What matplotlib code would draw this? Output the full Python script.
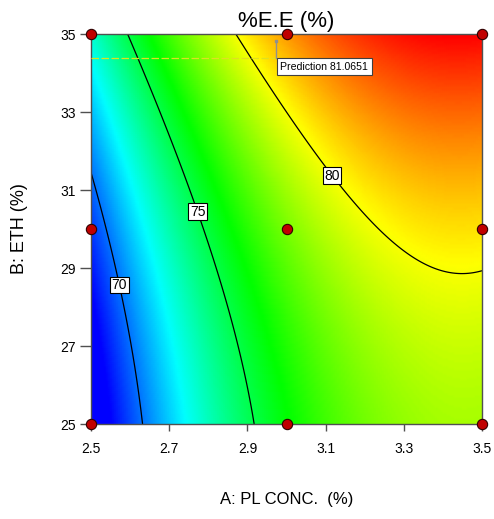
import numpy as np
import matplotlib
matplotlib.use("Agg")
import matplotlib.pyplot as plt
from matplotlib.colors import LinearSegmentedColormap

plt.rcParams['font.family'] = ['Liberation Sans', 'DejaVu Sans']

# Quadratic response-surface model (coded units)
model_coef = [78.012, 5.729, 2.804, -0.136, -3.209, 0.850]  # b0, A, B, AB, A^2, B^2
color_min, color_max = 68.2, 84.1
A_range = [2.5, 3.5]
B_range = [25, 35]
contour_levels = [70, 75, 80]
label_pos = [(2.572, 28.56), (2.772, 30.44), (3.126, 31.44)]
design_A = [2.5, 2.5, 2.5, 3.0, 3.0, 3.0, 3.5, 3.5, 3.5]
design_B = [25, 30, 35, 25, 30, 35, 25, 30, 35]
pred_A, pred_B, pred_val = 2.972, 34.38, 81.0651
x_ticks = [2.5, 2.7, 2.9, 3.1, 3.3, 3.5]
y_ticks = [25, 27, 29, 31, 33, 35]

fig = plt.figure(figsize=(4.94, 5.19), dpi=100)
ax = fig.add_axes([91/494, 1-424/519, 391/494, 390/519])

Ag = np.linspace(A_range[0], A_range[1], 201)
Bg = np.linspace(B_range[0], B_range[1], 201)
AA, BB = np.meshgrid(Ag, Bg)
ca = (AA - 3.0) / 0.5
cb = (BB - 30.0) / 5.0
b0, b1, b2, b12, b11, b22 = model_coef
Z = b0 + b1*ca + b2*cb + b12*ca*cb + b11*ca**2 + b22*cb**2

cmap = LinearSegmentedColormap.from_list('de', ['#0000FF', '#00FFFF', '#00FF00', '#FFFF00', '#FF0000'])
ax.pcolormesh(AA, BB, Z, cmap=cmap, shading='gouraud', vmin=color_min, vmax=color_max, zorder=0)
cs = ax.contour(AA, BB, Z, levels=contour_levels, colors='k', linewidths=0.9, zorder=2)
lbls = ax.clabel(cs, fmt='%d', manual=label_pos, inline=False, fontsize=10)
for t in lbls:
    t.set_rotation(0)
    t.set_zorder(4)
    t.set_bbox(dict(facecolor='white', edgecolor='black', pad=1.0, linewidth=0.8))

# prediction crosshair & flag
ax.plot([A_range[0], pred_A], [pred_B, pred_B], color='#E0E020', lw=0.9, ls=(0, (6, 2)), zorder=3)
ax.plot([pred_A, pred_A], [pred_B, pred_B + 0.44], color='#909090', lw=1.0, zorder=3)
ax.plot([pred_A], [pred_B + 0.44], marker='s', ms=2, color='#909090', zorder=3)
ax.text(pred_A + 0.012, pred_B - 0.09, f'Prediction {pred_val}', fontsize=7.6, ha='left', va='top',
        bbox=dict(facecolor='white', edgecolor='#404040', pad=2.6, linewidth=0.8), zorder=4)

ax.scatter(design_A, design_B, s=55, c='#C00000', edgecolors='#300000', linewidths=0.8, zorder=5, clip_on=False)

ax.set_xlim(A_range)
ax.set_ylim(B_range)
ax.set_xticks(x_ticks)
ax.set_yticks(y_ticks)
ax.set_xticklabels([f'{v:.1f}' for v in x_ticks])
ax.set_yticklabels([str(v) for v in y_ticks])
ax.tick_params(axis='x', length=5, width=1, color='#505050', labelsize=10, pad=8)
ax.tick_params(axis='y', length=8, width=1, color='#505050', labelsize=10, pad=3)
for s in ax.spines.values():
    s.set_color('#505050')
    s.set_linewidth(1.0)

ax.set_title('%E.E (%)', fontsize=16, pad=5)
ax.set_xlabel('A: PL CONC.  (%)', fontsize=12, labelpad=26)
ax.set_ylabel('B: ETH (%)', fontsize=13, labelpad=23)

fig.savefig('out.png', dpi=100)
